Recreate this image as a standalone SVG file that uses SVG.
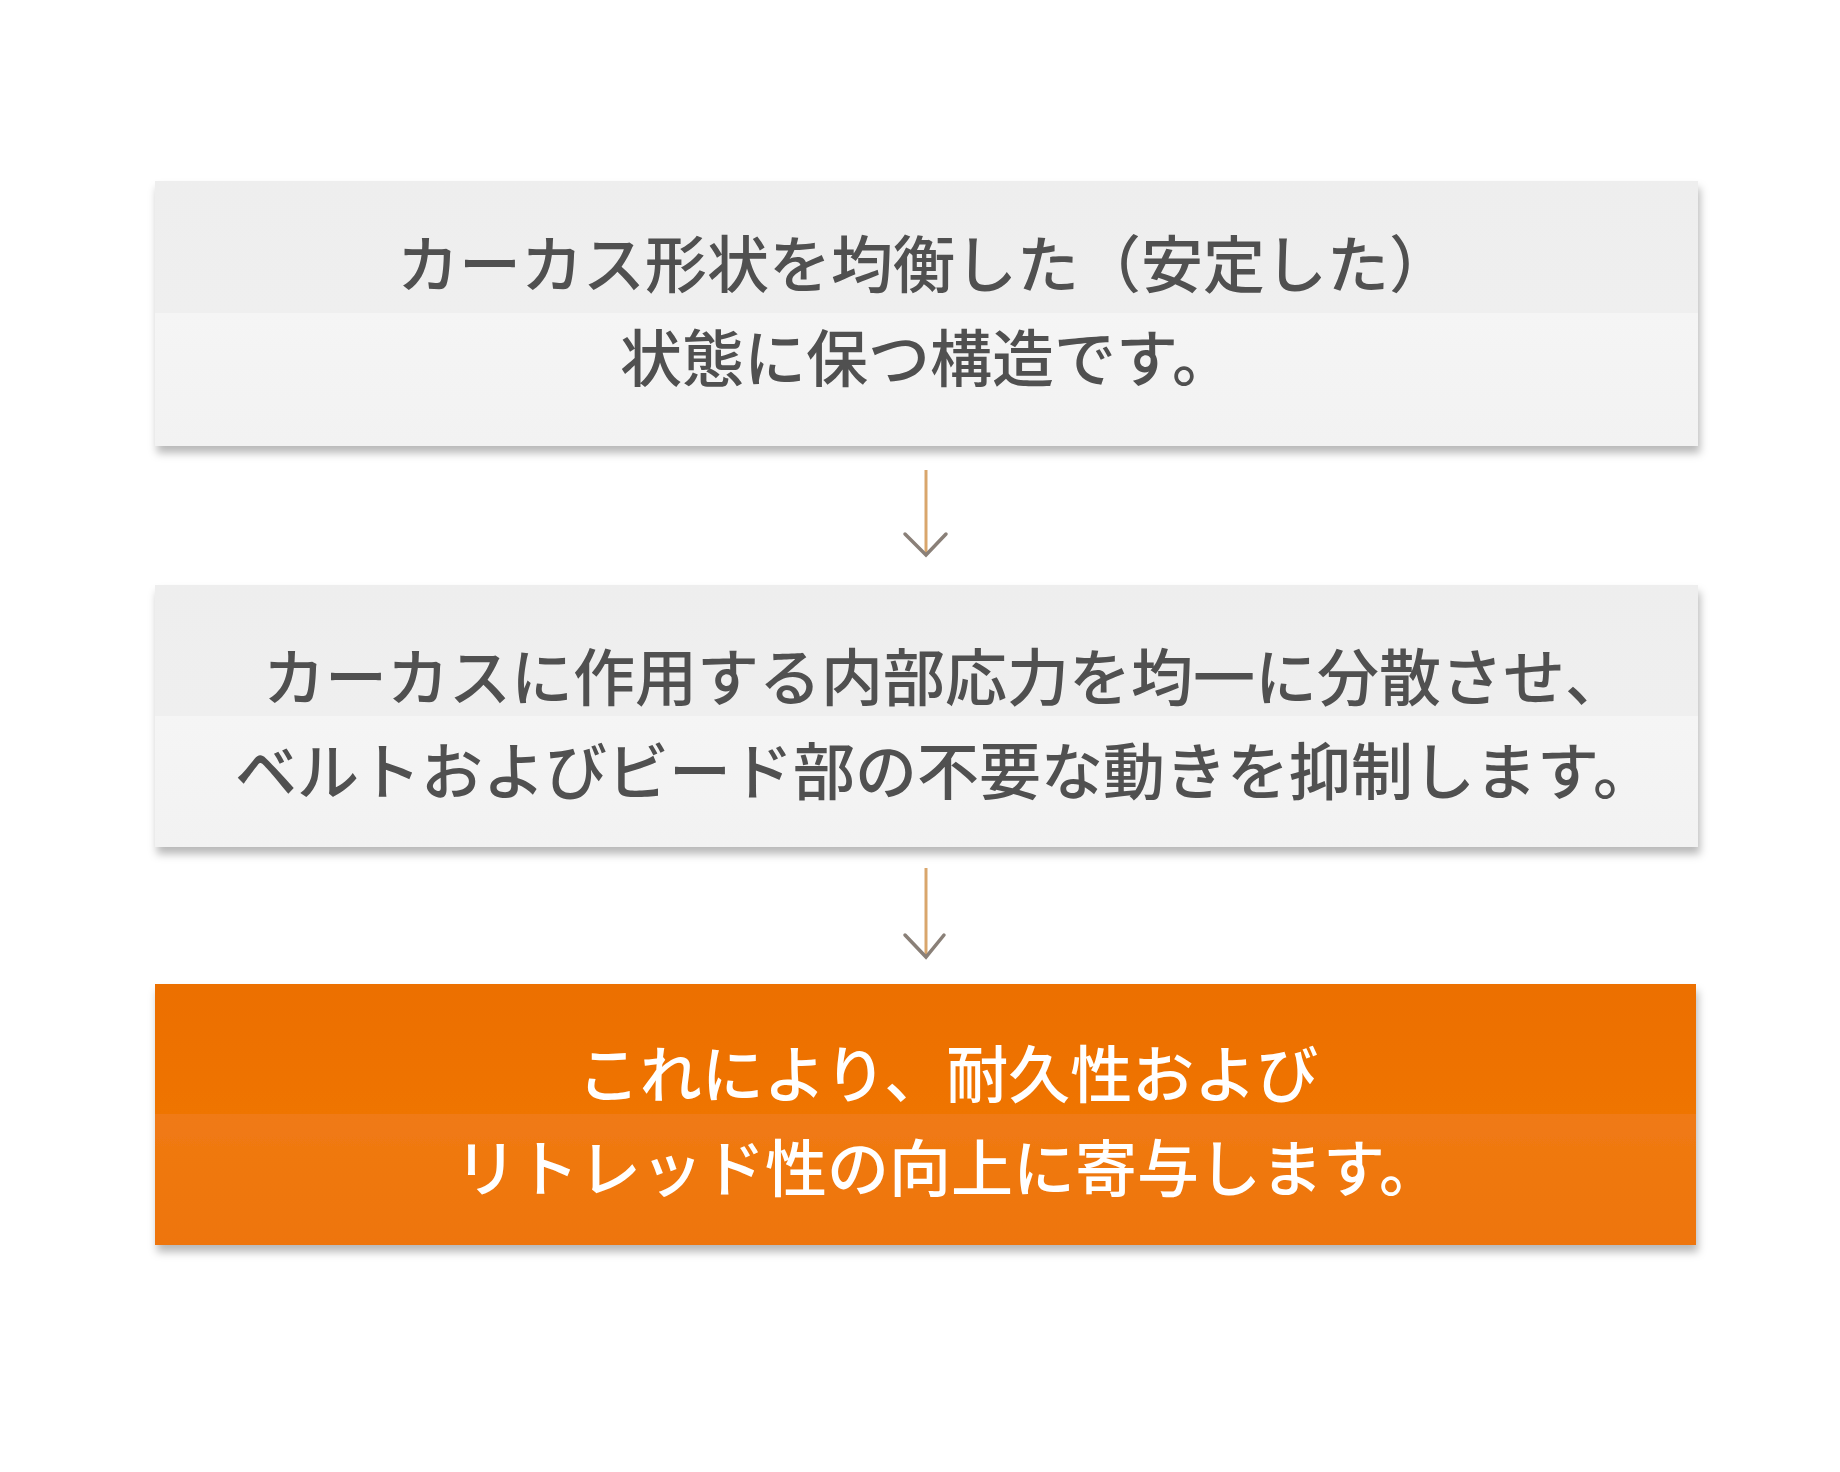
<svg xmlns="http://www.w3.org/2000/svg" width="1840" height="1472" viewBox="0 0 1840 1472">
<defs>
<linearGradient id="gGray" x1="0" y1="0" x2="0" y2="1">
<stop offset="0" stop-color="#eeeeee"/>
<stop offset="0.5" stop-color="#efefef"/>
<stop offset="0.5" stop-color="#f5f5f5"/>
<stop offset="1" stop-color="#f2f2f2"/>
</linearGradient>
<linearGradient id="gOrange" x1="0" y1="0" x2="0" y2="1">
<stop offset="0" stop-color="#ec6f00"/>
<stop offset="0.5" stop-color="#ef7400"/>
<stop offset="0.5" stop-color="#f07a14"/>
<stop offset="1" stop-color="#ee7508"/>
</linearGradient>
<filter id="shadow" x="-5%" y="-10%" width="110%" height="130%">
<feDropShadow dx="2" dy="7" stdDeviation="4" flood-color="#000" flood-opacity="0.28"/>
</filter>
</defs>
<style>
.t{font-family:"Noto Sans CJK JP","Noto Sans CJK SC",sans-serif;font-size:62px;font-weight:500;text-anchor:middle}
.dark{fill:#505050}
.light{fill:#ffffff}
.stem{stroke:#d9a66c;stroke-width:3;fill:none}
.head{stroke:#8a8078;stroke-width:3.5;fill:none;stroke-linecap:round}
</style>
<rect width="1840" height="1472" fill="#ffffff"/>
<g id="connectors">
<line class="stem" x1="926" y1="470" x2="926" y2="554"/>
<polyline class="head" points="905,534 926,555 946,534"/>
<line class="stem" x1="926" y1="868" x2="926" y2="956"/>
<polyline class="head" points="905,935 926,957 944,935"/>
</g>
<g id="node1">
<rect x="155" y="181" width="1543" height="265" fill="url(#gGray)" filter="url(#shadow)"/>
<text class="t dark" x="924" y="288">カーカス形状を均衡した（安定した）</text>
<text class="t dark" x="927" y="382">状態に保つ構造です。</text>
</g>
<g id="node2">
<rect x="155" y="585" width="1543" height="262" fill="url(#gGray)" filter="url(#shadow)"/>
<text class="t dark" x="945" y="701">カーカスに作用する内部応力を均一に分散させ、</text>
<text class="t dark" x="945" y="795">ベルトおよびビード部の不要な動きを抑制します。</text>
</g>
<g id="node3">
<rect x="155" y="984" width="1541" height="261" fill="url(#gOrange)" filter="url(#shadow)"/>
<text class="t light" x="948" y="1098">これにより、耐久性および</text>
<text class="t light" x="948" y="1192">リトレッド性の向上に寄与します。</text>
</g>
</svg>
